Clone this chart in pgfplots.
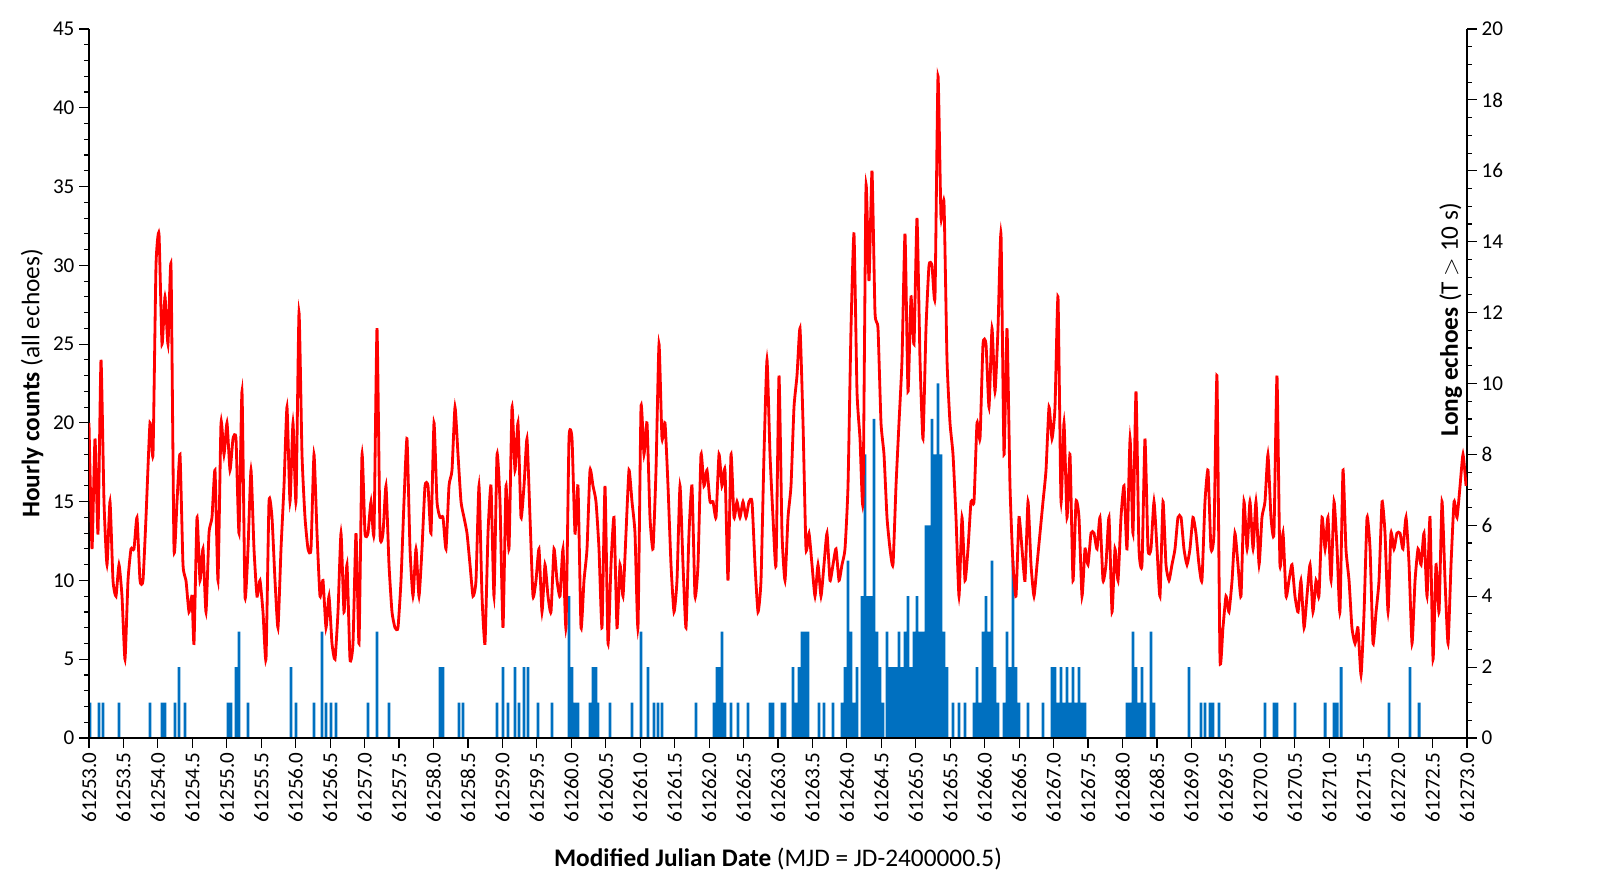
\documentclass[border=0pt]{standalone}
\usepackage{pgfplots}
\usepackage{pgfplotstable}
\pgfplotsset{compat=1.18}
\usepackage{fontspec}
\setmainfont{Carlito}
\definecolor{barblue}{RGB}{0,112,192}
\pgfplotstableread{
px y
89 20
92 12
95 19
98 13
101 24
104 15
107 11
110 15
113 10
116 9
119 11
122 9
125 5
128 10
131 12
134 12
137 14
140 10
143 10
146 14
150 20
153 18
156 30
159 32
162 25
165 28
168 25
171 30
174 12
177 15
180 18
183 11
186 10
189 8
192 9
194 6
197 14
200 10
203 12
206 8
209 13
212 14
215 17
218 10
221 20
224 18
227 20
230 17
233 19
236 19
239 13
242 22
245 9
248 12
251 17
254 12
257 9
260 10
263 8
266 5
269 15
272 14
275 10
278 7
281 12
284 16
287 21
290 15
293 20
296 15
299 27
302 18
305 14
308 12
311 12
314 18
317 13
320 9
323 10
326 7
329 9
332 6
335 5
338 8
341 13
344 8
347 11
350 5
353 6
356 13
359 6
362 18
365 13
368 13
371 15
374 13
377 26
380 13
383 13
386 16
389 11
392 8
395 7
398 7
401 10
404 15
407 19
410 12
413 9
416 12
419 9
422 12
425 16
428 16
431 13
434 20
437 15
440 14
443 14
446 12
449 16
452 17
455 21
458 18
461 15
464 14
467 13
470 11
473 9
476 10
479 16
482 9
485 6
488 13
491 16
494 9
497 18
500 15
503 7
506 16
509 12
512 21
515 17
518 20
521 14
524 16
527 19
530 14
533 9
536 10
539 12
542 8
545 11
548 9
551 8
554 12
557 10
560 9
563 12
566 7
569 19
572 19
575 13
578 16
581 7
584 10
587 12
590 17
593 16
596 15
599 12
602 7
605 16
608 6
611 11
614 14
617 7
620 11
623 9
626 13
629 17
632 15
635 13
638 7
641 21
644 18
647 20
650 14
653 12
656 17
659 25
662 19
665 20
668 16
671 11
674 8
677 10
680 16
683 11
686 7
689 13
692 16
695 9
698 11
701 18
704 16
707 17
710 15
713 15
716 14
719 18
722 16
725 17
728 10
731 18
734 14
737 15
740 14
743 15
746 14
749 15
752 15
755 11
758 8
761 10
764 18
767 24
770 18
773 14
776 11
779 23
782 13
785 10
788 14
791 16
794 21
797 23
800 26
803 20
806 12
809 13
812 11
815 9
818 11
821 9
824 11
827 13
830 10
833 11
836 12
839 10
842 11
845 12
848 16
851 26
854 32
857 22
860 19
863 15
866 35
869 29
872 36
875 27
878 26
881 20
884 18
887 14
890 12
893 11
896 16
899 20
902 24
905 32
908 22
911 28
914 25
917 33
920 24
923 19
926 26
929 30
932 30
935 28
938 42
941 33
944 34
947 24
950 20
953 18
956 14
959 9
962 14
965 10
968 12
971 15
974 15
977 20
980 19
983 25
986 25
989 21
992 26
995 22
998 26
1001 32
1004 18
1007 26
1010 16
1013 11
1016 9
1019 14
1022 12
1025 10
1028 15
1031 11
1034 9
1037 11
1040 13
1043 15
1046 17
1049 21
1052 19
1055 21
1058 28
1061 15
1064 20
1067 14
1070 18
1073 10
1076 15
1079 14
1082 9
1085 12
1088 11
1091 13
1094 13
1097 12
1100 14
1103 10
1106 11
1109 14
1112 8
1115 12
1118 10
1121 14
1124 16
1127 12
1130 19
1133 13
1136 22
1139 12
1142 11
1145 19
1148 12
1151 12
1154 15
1157 12
1160 9
1163 15
1166 11
1169 10
1172 11
1175 12
1178 14
1181 14
1184 12
1187 11
1190 12
1193 14
1196 13
1199 11
1202 10
1205 15
1208 17
1211 12
1214 13
1217 23
1220 5
1223 7
1226 9
1229 8
1232 10
1235 13
1238 11
1241 9
1244 15
1247 12
1250 15
1253 12
1256 15
1259 11
1262 14
1265 15
1268 18
1271 14
1274 13
1277 23
1280 11
1283 13
1286 9
1289 10
1292 11
1295 9
1298 8
1301 10
1304 7
1307 9
1310 11
1313 8
1316 10
1319 9
1322 14
1325 12
1328 14
1331 10
1334 15
1337 12
1340 8
1343 17
1346 12
1349 10
1352 7
1355 6
1358 7
1361 4
1364 8
1367 14
1370 12
1373 6
1376 8
1379 10
1382 15
1385 13
1388 8
1391 13
1394 12
1397 13
1400 13
1403 12
1406 14
1409 11
1412 6
1415 10
1418 12
1421 11
1424 13
1427 9
1430 14
1433 5
1436 11
1439 8
1442 15
1445 10
1448 6
1451 11
1454 15
1457 14
1460 16
1463 18
1466 16
}\redtab
\pgfplotstableread{
px y
90 1
99 1
103 1
119 1
150 1
162 1
165 1
175 1
179 2
185 1
228 1
231 1
236 2
239 3
248 1
291 2
296 1
314 1
322 3
326 1
331 1
336 1
368 1
377 3
389 1
440 2
443 2
459 1
463 1
497 1
503 2
508 1
515 2
519 1
524 2
528 2
538 1
552 1
569 4
572 2
575 1
578 1
590 1
593 2
596 2
598 1
610 1
632 1
641 3
648 2
654 1
658 1
662 1
696 1
714 1
717 2
720 2
722 3
725 1
731 1
738 1
748 1
770 1
773 1
782 1
785 1
793 2
796 1
799 2
802 3
805 3
808 3
819 1
824 1
833 1
842 1
845 2
848 5
851 3
854 1
857 2
862 4
865 8
868 4
871 4
874 9
877 3
880 2
883 1
887 3
890 2
893 2
896 2
899 3
902 2
905 3
908 4
911 2
914 3
917 4
920 3
923 3
926 6
929 6
932 9
935 8
938 10
941 8
944 3
947 2
953 1
959 1
965 1
974 1
977 2
980 1
983 3
986 4
989 3
992 5
995 2
998 1
1004 1
1007 3
1010 2
1013 5
1016 2
1019 1
1028 1
1043 1
1052 2
1055 2
1058 1
1061 2
1064 1
1067 2
1070 1
1073 2
1076 1
1079 2
1082 1
1085 1
1127 1
1130 1
1133 3
1136 2
1139 1
1142 2
1145 1
1151 3
1154 1
1189 2
1201 1
1205 1
1210 1
1213 1
1219 1
1265 1
1274 1
1277 1
1295 1
1325 1
1334 1
1337 1
1341 2
1389 1
1410 2
1419 1
}\bluetab
\begin{document}
\begin{tikzpicture}
\pgfplotsset{
  every axis/.append style={
    width=34.45cm, height=17.725cm, scale only axis,
    xmin=0, xmax=20,
    /pgf/number format/assume math mode=true,
    tick align=outside, tick style={black, thick},
    minor tick length=1.2mm, major tick length=2.4mm,
    tick label style={font=\fontsize{15}{17}\selectfont},
    axis line style={thick, black},
  }
}
\begin{axis}[
  axis y line*=right, axis x line=none,
  ymin=0, ymax=20, ytick={0,2,...,20}, minor y tick num=3,
  ylabel={\textbf{Long echoes} (T $>$ 10 s)},
  ylabel style={font=\fontsize{18}{20}\selectfont, at={(rel axis cs:1,0.5)}, xshift=1.6cm, anchor=south, rotate=0},
]
\addplot[ybar, bar width=0.042, fill=barblue, draw=none]
  table[x expr={(\thisrow{px}-89)/68.9}, y=y]{\bluetab};
\end{axis}
\begin{axis}[name=ax,
  axis y line*=left, axis x line*=bottom,
  ymin=0, ymax=45, ytick={0,5,...,45}, minor y tick num=4,
  xtick={0,0.5,...,20},
  xticklabels={61253.0,61253.5,61254.0,61254.5,61255.0,61255.5,61256.0,61256.5,61257.0,61257.5,61258.0,61258.5,61259.0,61259.5,61260.0,61260.5,61261.0,61261.5,61262.0,61262.5,61263.0,61263.5,61264.0,61264.5,61265.0,61265.5,61266.0,61266.5,61267.0,61267.5,61268.0,61268.5,61269.0,61269.5,61270.0,61270.5,61271.0,61271.5,61272.0,61272.5,61273.0},
  xticklabel style={rotate=90, anchor=east},
  ylabel={\textbf{Hourly counts} (all echoes)},
  xlabel={\textbf{Modified Julian Date} (MJD = JD-2400000.5)},
  xlabel style={yshift=-0.4cm},
  label style={font=\fontsize{18}{20}\selectfont},
]
\addplot[red, line width=2pt, smooth, tension=0.3]
  table[x expr={(\thisrow{px}-89)/68.9}, y=y]{\redtab};
\end{axis}
\path[use as bounding box] ([xshift=-2.225cm,yshift=-3.725cm]ax.south west) rectangle ([xshift=3.325cm,yshift=0.725cm]ax.north east);
\end{tikzpicture}
\end{document}
